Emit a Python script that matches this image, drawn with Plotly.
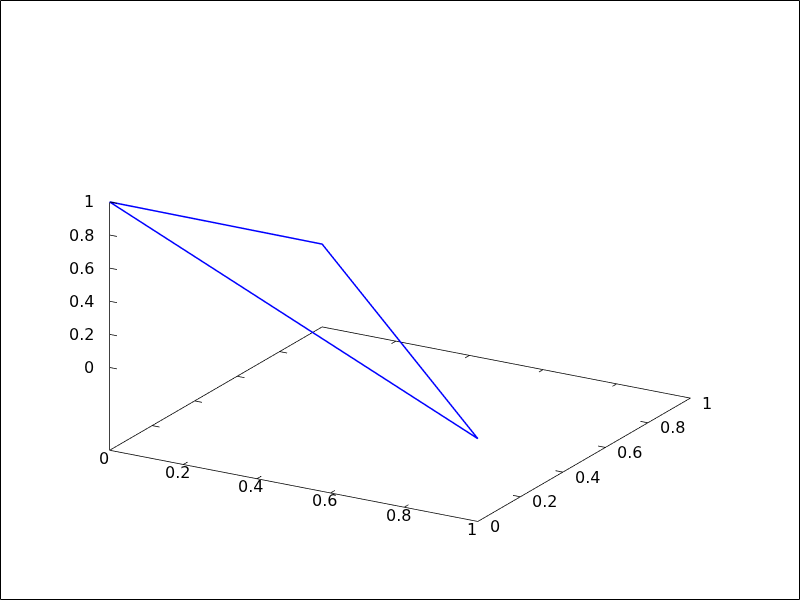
import plotly.graph_objects as go
import numpy as np

# data: closed triangle
xs = [0, 0, 1, 0]
ys = [0, 1, 0, 0]
zs = [1, 0, 0, 1]

x_ticks = [0, 0.2, 0.4, 0.6, 0.8, 1]
y_ticks = [0, 0.2, 0.4, 0.6, 0.8, 1]
z_ticks = [0, 0.2, 0.4, 0.6, 0.8, 1]
x_range = [0, 1]
y_range = [0, 1]
z_range = [-0.5, 1]

x0, x1 = x_range
y0, y1 = y_range
zb, zt = z_range
lx = 0.02 * (x1 - x0)
ly = 0.02 * (y1 - y0)

fig = go.Figure()
fig.add_trace(go.Scatter3d(x=xs, y=ys, z=zs, mode="lines",
                           line=dict(color="rgb(0,0,255)", width=3),
                           showlegend=False, hoverinfo="skip"))

# frame: base rectangle + z axis line
fx = [x0, x1, x1, x0, x0, None, x0, x0]
fy = [y0, y0, y1, y1, y0, None, y0, y0]
fz = [zb, zb, zb, zb, zb, None, zb, zt]
# tick marks
for t in x_ticks:
    fx += [None, t, t, None, t, t]
    fy += [None, y0, y0 + ly, None, y1, y1 - ly]
    fz += [None, zb, zb, None, zb, zb]
for t in y_ticks:
    fx += [None, x1, x1 - lx, None, x0, x0 + lx]
    fy += [None, t, t, None, t, t]
    fz += [None, zb, zb, None, zb, zb]
for t in z_ticks:
    fx += [None, x0, x0 + lx]
    fy += [None, y0, y0]
    fz += [None, t, t]
fig.add_trace(go.Scatter3d(x=fx, y=fy, z=fz, mode="lines",
                           line=dict(color="black", width=1.5),
                           connectgaps=False,
                           showlegend=False, hoverinfo="skip"))

font = dict(family="DejaVu Sans", size=16, color="black")
annotations = []
for t in x_ticks:
    annotations.append(dict(x=t, y=y0, z=zb, text=f"{t:g}", showarrow=False,
                            xanchor="center", yanchor="middle",
                            xshift=-6, yshift=-8, font=font))
for t in y_ticks:
    annotations.append(dict(x=x1, y=t, z=zb, text=f"{t:g}", showarrow=False,
                            xanchor="left", yanchor="middle",
                            xshift=10, yshift=-5, font=font))
for t in z_ticks:
    annotations.append(dict(x=x0, y=y0, z=t, text=f"{t:g}", showarrow=False,
                            xanchor="right", yanchor="middle",
                            xshift=-14, yshift=0, font=font))

def ax(rng):
    pad = 1e-3 * (rng[1] - rng[0])
    return dict(range=[rng[0] - pad, rng[1] + pad],
                showgrid=False, zeroline=False, showbackground=False,
                showline=False, ticks="", showticklabels=False,
                showspikes=False, title=dict(text=""))

k = 1.42
d = np.array([0.471, -0.816, 0.335])
d = d / np.linalg.norm(d) * 2.0

fig.update_layout(
    width=800, height=600,
    margin=dict(l=0, r=0, t=0, b=0),
    paper_bgcolor="white",
    scene=dict(
        domain=dict(x=[0, 1], y=[0, 1]),
        xaxis=ax(x_range),
        yaxis=ax(y_range),
        zaxis=ax(z_range),
        aspectmode="manual",
        aspectratio=dict(x=1 * k, y=1 * k, z=0.62 * k),
        camera=dict(eye=dict(x=d[0], y=d[1], z=d[2]),
                    up=dict(x=0, y=0, z=1),
                    center=dict(x=0, y=0, z=0),
                    projection=dict(type="orthographic")),
        annotations=annotations,
    ),
    shapes=[dict(type="rect", xref="paper", yref="paper",
                 x0=0.5/800, x1=1-0.5/800, y0=0.5/600, y1=1-0.5/600,
                 line=dict(color="black", width=1))],
)
fig.write_html("out.html", config={"displayModeBar": False},
               post_script="document.body.style.margin='0';document.body.style.overflow='hidden';")
